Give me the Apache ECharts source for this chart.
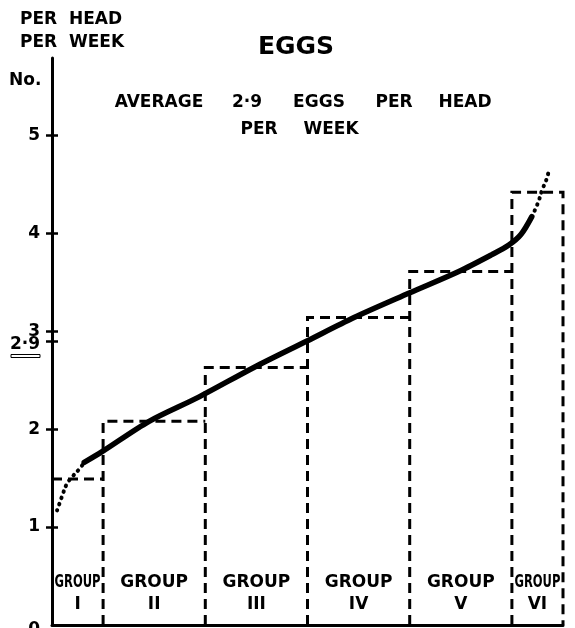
<!DOCTYPE html>
<html><head><meta charset="utf-8">
<script src="https://cdn.jsdelivr.net/npm/echarts@6/dist/echarts.min.js"></script>
<style>html,body{margin:0;padding:0;background:#fff}#c{width:575px;height:628px}</style>
</head><body><div id="c"></div>
<script>
// ---- data ----
const groupNames = ['I', 'II', 'III', 'IV', 'V', 'VI'];
const groupStart = [0, 10, 30, 50, 70, 90];
const groupEnd = [10, 30, 50, 70, 90, 100];
const groupValues = [1.49, 2.08, 2.63, 3.14, 3.61, 4.42];
const curveLowX = [1.0, 2.0, 2.9, 3.9, 5.3, 6.3];
const curveLowY = [1.17, 1.32, 1.44, 1.51, 1.59, 1.66];
const curveMidX = [6.3, 9.8, 19.0, 28.8, 39.5, 49.9, 59.1, 69.9, 79.6, 86.0, 89.4, 91.8, 93.9];
const curveMidY = [1.66, 1.77, 2.08, 2.33, 2.63, 2.90, 3.14, 3.39, 3.61, 3.78, 3.88, 3.99, 4.17];
const curveHighX = [93.9, 94.7, 95.3, 95.9, 96.7, 97.1];
const curveHighY = [4.17, 4.26, 4.34, 4.44, 4.54, 4.61];
const yTicks = [1, 2, 2.9, 3, 4, 5];
const yLabels = [0, 1, 2, 2.9, 3, 4, 5];
const averageValue = 2.9;
const yMax = 5.79;

const FAM = '"DejaVu Sans", sans-serif';
const FONT = 'bold 17px ' + FAM;
const chart = echarts.init(document.getElementById('c'));

const pts = (xs, ys) => xs.map((x, i) => [x, ys[i]]);
const fmtNum = v => String(v).replace('.', '·');

function baseY(extra) {
  return Object.assign({
    type: 'value', min: 0, max: yMax, position: 'left', offset: 0,
    splitLine: { show: false }
  }, extra);
}

const txt = (text, x, y, align, font) => ({
  type: 'text', x: x, y: y,
  style: { text: text, font: font || FONT, fill: '#000', align: align || 'center', verticalAlign: 'middle' }
});

const option = {
  animation: false,
  grid: { left: 52, right: 12, top: 58, bottom: 3, outerBoundsMode: 'none', containLabel: false },
  xAxis: {
    type: 'value', min: 0, max: 100,
    axisLine: { lineStyle: { color: '#000', width: 3 } },
    axisTick: { show: false }, axisLabel: { show: false }, splitLine: { show: false }
  },
  yAxis: [
    baseY({
      axisLine: { show: true, lineStyle: { color: '#000', width: 3 } },
      axisTick: { show: true, length: 6, customValues: yTicks, lineStyle: { color: '#000', width: 2.5 } },
      axisLabel: {
        customValues: yLabels, margin: 12, hideOverlap: false, color: '#000',
        formatter: v => v === averageValue ? '{s| }\n{t|' + fmtNum(v) + '}\n{u| }'
          : (v === 0 ? '{z|' + fmtNum(v) + '}' : '{n|' + fmtNum(v) + '}'),
        rich: {
          n: { fontFamily: FAM, fontWeight: 'bold', fontSize: 17, color: '#000' },
          z: { fontFamily: FAM, fontWeight: 'bold', fontSize: 17, color: '#000', padding: [10, 0, 0, 0] },
          t: { fontFamily: FAM, fontWeight: 'bold', fontSize: 17, color: '#000', lineHeight: 16 },
          s: { fontSize: 1, lineHeight: 14 },
          u: { fontSize: 1, lineHeight: 7, width: 29, height: 3, borderColor: '#000', borderWidth: 1 }
        }
      }
    }),
    baseY({
      axisLine: { show: false },
      axisTick: { show: true, inside: true, length: 6, customValues: yTicks, lineStyle: { color: '#000', width: 2.5 } },
      axisLabel: { show: false }
    })
  ],
  graphic: [
    txt('PER  HEAD', 20, 20, 'left'),
    txt('PER  WEEK', 20, 43, 'left'),
    txt('No.', 9, 81, 'left'),
    txt('EGGS', 296, 47, 'center', 'bold 25px ' + FAM),
    txt('AVERAGE', 159, 103),
    txt(fmtNum(averageValue), 247, 103),
    txt('EGGS', 319, 103),
    txt('PER', 394, 103),
    txt('HEAD', 465, 103),
    txt('PER', 259, 130),
    txt('WEEK', 331, 130)
  ],
  series: [
    {
      type: 'custom',
      encode: { x: [0, 1], y: 2 },
      data: groupStart.map((s, i) => [s, groupEnd[i], groupValues[i]]),
      renderItem: (params, api) => {
        const i = params.dataIndex;
        const x0 = api.value(0), x1 = api.value(1), h = api.value(2);
        const pB0 = api.coord([x0, 0]), pT0 = api.coord([x0, h]);
        const pT1 = api.coord([x1, h]), pB1 = api.coord([x1, 0]);
        const line = i === 0 ? [pT0, pT1] : [pB0, pT0, pT1];
        if (i === groupValues.length - 1) line.push(pB1);
        const w = pB1[0] - pB0[0];
        const cx = (pB0[0] + pB1[0]) / 2;
        const sc = Math.min(1, (w - 5) / 68);
        return {
          type: 'group',
          children: [
            { type: 'polyline', shape: { points: line },
              style: { stroke: '#000', lineWidth: 3, lineDash: [10, 6], fill: null } },
            { type: 'text', x: cx, y: pB0[1] - 42, scaleX: sc,
              style: { text: 'GROUP', font: FONT, fill: '#000', align: 'center', verticalAlign: 'middle' } },
            { type: 'text', x: cx, y: pB0[1] - 20,
              style: { text: groupNames[i], font: FONT, fill: '#000', align: 'center', verticalAlign: 'middle' } }
          ]
        };
      }
    },
    {
      type: 'line', data: pts(curveLowX, curveLowY), smooth: 0.4, symbol: 'none',
      lineStyle: { color: '#000', width: 4, type: [0.5, 6], cap: 'round' }
    },
    {
      type: 'line', data: pts(curveMidX, curveMidY), smooth: 0.3, symbol: 'none',
      lineStyle: { color: '#000', width: 5.5, cap: 'round' }
    },
    {
      type: 'line', data: pts(curveHighX, curveHighY), smooth: 0.4, symbol: 'none',
      lineStyle: { color: '#000', width: 4, type: [0.5, 6], cap: 'round' }
    }
  ]
};
chart.setOption(option);
</script>
</body></html>
